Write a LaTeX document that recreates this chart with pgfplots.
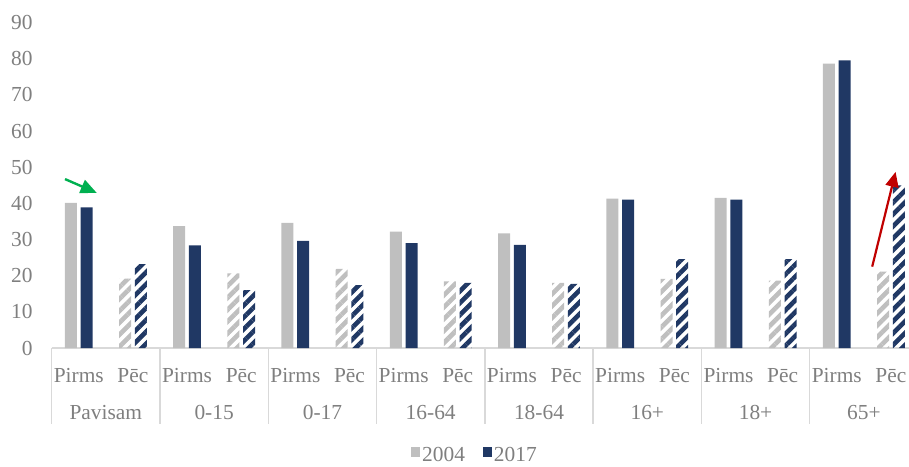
\documentclass[border=0pt]{standalone}
\usepackage{fontspec}
\setmainfont{Liberation Serif}
\usepackage{pgfplots}
\usepackage{pgfplotstable}
\pgfplotsset{compat=1.18}
\usetikzlibrary{patterns.meta,arrows.meta}
\definecolor{c04}{HTML}{BFBFBF}
\definecolor{c17}{HTML}{203864}
\definecolor{txt}{HTML}{7F7F7F}
\definecolor{sepc}{HTML}{D9D9D9}
\definecolor{grn}{HTML}{00B050}
\definecolor{rd}{HTML}{C00000}
\newcommand{\lbl}{\fontsize{10.7}{12}\selectfont}

\pgfplotstableread{
x y04 y17
0 40.1 38.9
2 33.7 28.4
4 34.6 29.6
6 32.2 29.0
8 31.7 28.5
10 41.3 41.0
12 41.5 41.0
14 78.6 79.5
}\pirms

\pgfplotstableread{
x y04 y17
1 19.2 23.2
3 20.6 16.0
5 21.9 17.4
7 18.4 18.0
9 18.0 17.7
11 19.1 24.6
13 18.6 24.6
15 21.1 45.0
}\pec

\begin{document}
\begin{tikzpicture}
\begin{axis}[
  at={(25.85pt,59pt)}, anchor=south west,
  scale only axis, width=433.15pt, height=162.75pt,
  xmin=-0.5, xmax=15.5, ymin=0, ymax=90,
  ytick={0,10,...,90},
  xtick={0,...,15},
  xticklabels={Pirms,Pēc,Pirms,Pēc,Pirms,Pēc,Pirms,Pēc,Pirms,Pēc,Pirms,Pēc,Pirms,Pēc,Pirms,Pēc},
  axis lines*=left,
  y axis line style={draw=none},
  x axis line style={draw=sepc, line width=0.75pt},
  major tick length=0pt,
  tick style={draw=none},
  clip=false,
  /pgf/number format/assume math mode=true,
  tick label style={font=\lbl, text=txt},
  yticklabel style={xshift=-6pt},
  xticklabel style={anchor=base, yshift=-17pt},
  legend columns=2,
  legend style={at={(0.4886,-0.332)}, anchor=center, draw=none, fill=none,
    font=\lbl, text=txt, inner sep=0pt, nodes={inner sep=1pt},
    /tikz/every even column/.append style={column sep=8pt}},
]
\addplot[ybar, bar width=6pt, bar shift=-3.93pt, fill=c04, draw=none,
  legend image code/.code={\fill[c04] (0pt,-0.5pt) rectangle (4.5pt,4.5pt);}]
  table[x=x, y=y04] {\pirms};
\addlegendentry{2004}
\addplot[ybar, bar width=6pt, bar shift=3.93pt, fill=c17, draw=none,
  legend image code/.code={\fill[c17] (0pt,-0.5pt) rectangle (4.5pt,4.5pt);}]
  table[x=x, y=y17] {\pirms};
\addlegendentry{2017}
\addplot[ybar, bar width=6pt, bar shift=-3.93pt, draw=none, forget plot,
  pattern={Lines[angle=45,distance=4.2pt,line width=2.3pt]}, pattern color=c04]
  table[x=x, y=y04] {\pec};
\addplot[ybar, bar width=6pt, bar shift=3.93pt, draw=none, forget plot,
  pattern={Lines[angle=45,distance=4.2pt,line width=2.3pt]}, pattern color=c17]
  table[x=x, y=y17] {\pec};

\pgfplotsinvokeforeach{0,...,8}{
  \draw[sepc, line width=0.75pt] (axis cs:{2*#1-0.5},0) -- ([yshift=-38pt]axis cs:{2*#1-0.5},0);
}
\node[font=\lbl, text=txt, anchor=base] at ([yshift=-35.5pt]axis cs:0.5,0) {Pavisam};
\node[font=\lbl, text=txt, anchor=base] at ([yshift=-35.5pt]axis cs:2.5,0) {0-15};
\node[font=\lbl, text=txt, anchor=base] at ([yshift=-35.5pt]axis cs:4.5,0) {0-17};
\node[font=\lbl, text=txt, anchor=base] at ([yshift=-35.5pt]axis cs:6.5,0) {16-64};
\node[font=\lbl, text=txt, anchor=base] at ([yshift=-35.5pt]axis cs:8.5,0) {18-64};
\node[font=\lbl, text=txt, anchor=base] at ([yshift=-35.5pt]axis cs:10.5,0) {16+};
\node[font=\lbl, text=txt, anchor=base] at ([yshift=-35.5pt]axis cs:12.5,0) {18+};
\node[font=\lbl, text=txt, anchor=base] at ([yshift=-35.5pt]axis cs:14.5,0) {65+};

\draw[grn, line width=1.2pt, -{Triangle[length=8pt,width=7pt]}]
  (axis cs:-0.254,46.7) -- (axis cs:0.331,42.9);
\draw[rd, line width=1.1pt, -{Triangle[length=7.5pt,width=6.5pt]}]
  (axis cs:14.654,22.5) -- (axis cs:15.086,48.7);
\end{axis}
\pgfresetboundingbox
\path[use as bounding box] (0,0) rectangle (454.5pt,233pt);
\end{tikzpicture}
\end{document}
